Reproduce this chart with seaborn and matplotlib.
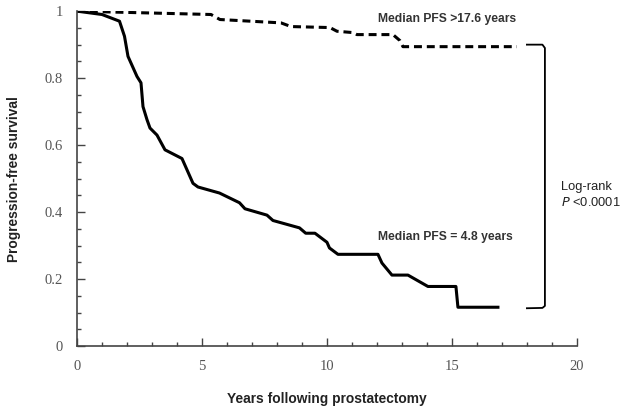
import pandas as pd
import matplotlib.pyplot as plt
import seaborn as sns
from matplotlib.ticker import MultipleLocator

# Kaplan-Meier curves (years, progression-free survival)
low_years = [0, 1.0, 1.7, 1.9, 2.04, 2.4, 2.56, 2.64, 2.8, 2.92, 3.2, 3.52, 4.2,
             4.64, 4.84, 5.7, 6.5, 6.72, 7.6, 7.84, 8.9, 9.15, 9.52, 10.0, 10.1,
             10.44, 12.04, 12.2, 12.6, 13.24, 14.04, 15.16, 15.24, 16.84]
low_pfs = [1.0, 0.99, 0.97, 0.925, 0.865, 0.805, 0.786, 0.715, 0.676, 0.651, 0.63,
           0.586, 0.56, 0.486, 0.475, 0.457, 0.428, 0.41, 0.391, 0.375, 0.353, 0.337,
           0.337, 0.31, 0.293, 0.274, 0.274, 0.248, 0.212, 0.212, 0.178, 0.178,
           0.116, 0.116]

high_years = [0, 5.36, 5.72, 8.16, 8.56, 10.12, 10.4, 11.04, 11.2, 12.64, 12.92,
              13.04, 17.6]
high_pfs = [1.0, 0.99, 0.975, 0.965, 0.954, 0.951, 0.94, 0.936, 0.93, 0.93, 0.912,
            0.894, 0.894]

df = pd.concat([
    pd.DataFrame({'years': low_years, 'pfs': low_pfs, 'group': 'low'}),
    pd.DataFrame({'years': high_years, 'pfs': high_pfs, 'group': 'high'}),
], ignore_index=True)

fig = plt.figure(figsize=(6.21, 4.13), dpi=100)
ax = fig.add_axes([0.124, 0.162, 0.805, 0.811])

sns.lineplot(data=df, x='years', y='pfs', style='group',
             dashes={'low': '', 'high': (2.6, 1.6)}, color='black',
             linewidth=2.2, estimator=None, sort=False, legend=False, ax=ax)

# bracket joining the two curve ends
bx0, bx1 = 18.0, 18.72
ax.plot([bx0, bx1 - 0.1, bx1, bx1, bx1 - 0.1, bx0],
        [0.9, 0.9, 0.89, 0.12, 0.114, 0.113], color='black', lw=1.3)

txt = dict(fontsize=8.7, fontweight='bold', color='#333333', family='Liberation Sans')
ax.text(14.8, 0.978, 'Median PFS >17.6 years', ha='center', va='center', **txt)
ax.text(14.75, 0.325, 'Median PFS = 4.8 years', ha='center', va='center', **txt)
ax.text(19.35, 0.475, 'Log-rank', ha='left', va='center', fontsize=9.3,
        color='#222222', family='Liberation Sans')
ax.text(19.35, 0.43, r'$P$ <0.0001', ha='left', va='center', fontsize=9.3,
        color='#222222', family='Liberation Sans')

ax.set_xlim(0, 20)
ax.set_ylim(0, 1)
ax.xaxis.set_major_locator(MultipleLocator(5))
ax.xaxis.set_minor_locator(MultipleLocator(1))
ax.yaxis.set_major_locator(MultipleLocator(0.2))
ax.yaxis.set_minor_locator(MultipleLocator(0.05))
ax.set_yticks([0, 0.2, 0.4, 0.6, 0.8, 1.0])
ax.set_yticklabels(['0', '0.2', '0.4', '0.6', '0.8', '1'])

for side in ['top', 'right']:
    ax.spines[side].set_visible(False)
for side in ['left', 'bottom']:
    ax.spines[side].set_color('#444444')
    ax.spines[side].set_linewidth(1.2)
ax.tick_params(which='both', direction='in', color='#444444', width=1.0)
ax.tick_params(which='major', length=5.5)
ax.tick_params(which='minor', length=3.2)
ax.tick_params(axis='y', which='major', pad=10, labelsize=10.5, labelcolor='#555555')
ax.tick_params(axis='x', which='major', pad=10, labelsize=10.5, labelcolor='#555555')
for lab in ax.get_xticklabels() + ax.get_yticklabels():
    lab.set_family('Liberation Serif')

ax.set_xlabel('Years following prostatectomy', fontsize=9.9, fontweight='bold',
              family='Liberation Sans', color='#222222', labelpad=14)
ax.set_ylabel('Progression-free survival', fontsize=9.9, fontweight='bold',
              family='Liberation Sans', color='#222222', labelpad=17)

fig.savefig('out.png', dpi=100)
